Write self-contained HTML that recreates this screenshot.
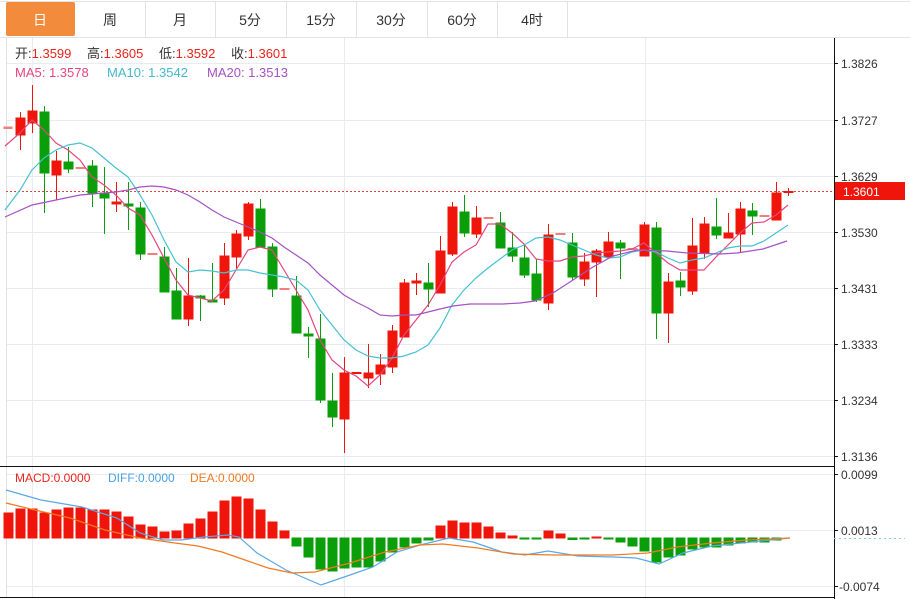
<!DOCTYPE html>
<html><head><meta charset="utf-8"><style>
body{margin:0;background:#fff;width:910px;height:599px;overflow:hidden;font-family:"Liberation Sans","Noto Sans CJK SC",sans-serif}
svg{display:block}
.r{fill:#f0150a;stroke:#f0150a}
.g{fill:#0a9e0a;stroke:#0a9e0a}
text{font-family:"Liberation Sans","Noto Sans CJK SC",sans-serif}
</style></head><body>
<svg width="910" height="599" viewBox="0 0 910 599" xmlns="http://www.w3.org/2000/svg">
<line x1="0" y1="1.5" x2="910" y2="1.5" stroke="#e2e2e2"/>
<line x1="0" y1="37.5" x2="910" y2="37.5" stroke="#e2e2e2"/>
<g stroke="#e2e2e2">
<line x1="145.5" y1="2" x2="145.5" y2="37"/><line x1="215.5" y1="2" x2="215.5" y2="37"/><line x1="286.5" y1="2" x2="286.5" y2="37"/><line x1="356.5" y1="2" x2="356.5" y2="37"/><line x1="427.5" y1="2" x2="427.5" y2="37"/><line x1="497.5" y1="2" x2="497.5" y2="37"/><line x1="567.5" y1="2" x2="567.5" y2="37"/>
</g>
<rect x="6" y="2" width="69" height="34" rx="2" fill="#f28b3c"/>
<g font-size="14" text-anchor="middle" fill="#333">
<text x="40" y="25" fill="#fff">日</text><text x="110" y="25">周</text><text x="180" y="25">月</text><text x="250" y="25">5分</text><text x="321" y="25">15分</text><text x="391" y="25">30分</text><text x="462" y="25">60分</text><text x="532" y="25">4时</text>
</g>
<g stroke="#e8ecf0">
<line x1="6" y1="63.5" x2="834" y2="63.5"/><line x1="6" y1="120.5" x2="834" y2="120.5"/><line x1="6" y1="176.5" x2="834" y2="176.5"/><line x1="6" y1="232.5" x2="834" y2="232.5"/><line x1="6" y1="288.5" x2="834" y2="288.5"/><line x1="6" y1="344.5" x2="834" y2="344.5"/><line x1="6" y1="400.5" x2="834" y2="400.5"/><line x1="6" y1="456.5" x2="834" y2="456.5"/>
<line x1="32.5" y1="38" x2="32.5" y2="598"/><line x1="344.5" y1="38" x2="344.5" y2="598"/><line x1="645.5" y1="38" x2="645.5" y2="598"/>
<line x1="6" y1="474.5" x2="834" y2="474.5"/><line x1="6" y1="530.5" x2="834" y2="530.5"/><line x1="6" y1="586.5" x2="834" y2="586.5"/>
</g>
<line x1="6.5" y1="38" x2="6.5" y2="598" stroke="#e2e2e2"/>
<line x1="0" y1="466.5" x2="834" y2="466.5" stroke="#111"/>
<line x1="0" y1="597.5" x2="834" y2="597.5" stroke="#111"/>
<line x1="834.5" y1="38" x2="834.5" y2="599" stroke="#111"/>
<g stroke="#111">
<line x1="834" y1="63.5" x2="838" y2="63.5"/><line x1="834" y1="120.5" x2="838" y2="120.5"/><line x1="834" y1="176.5" x2="838" y2="176.5"/><line x1="834" y1="232.5" x2="838" y2="232.5"/><line x1="834" y1="288.5" x2="838" y2="288.5"/><line x1="834" y1="344.5" x2="838" y2="344.5"/><line x1="834" y1="400.5" x2="838" y2="400.5"/><line x1="834" y1="456.5" x2="838" y2="456.5"/>
<line x1="834" y1="474.5" x2="838" y2="474.5"/><line x1="834" y1="530.5" x2="838" y2="530.5"/><line x1="834" y1="586.5" x2="838" y2="586.5"/>
</g>
<g font-size="12" fill="#333">
<text x="841" y="68">1.3826</text><text x="841" y="125">1.3727</text><text x="841" y="181">1.3629</text><text x="841" y="237">1.3530</text><text x="841" y="293">1.3431</text><text x="841" y="349">1.3333</text><text x="841" y="405">1.3234</text><text x="841" y="461">1.3136</text>
<text x="841" y="479">0.0099</text><text x="841" y="535">0.0013</text><text x="839" y="591">-0.0074</text>
</g>
<line x1="6" y1="191.5" x2="834" y2="191.5" stroke="#e84040" stroke-dasharray="2,2"/>
<rect x="835" y="182" width="70" height="18" fill="#f0150a"/>
<text x="843" y="196" font-size="12" fill="#fff">1.3601</text>
<line x1="834" y1="538.5" x2="905" y2="538.5" stroke="#8cc8e8" stroke-dasharray="2,3"/>
<g stroke-width="1">
<rect x="4" y="127" width="8" height="1.5" fill="#f08080" stroke="#f08080"/>
<line class="r" x1="20.5" y1="112" x2="20.5" y2="150"/><rect class="r" x="16" y="118" width="9" height="17"/>
<line class="r" x1="32.5" y1="85" x2="32.5" y2="133"/><rect class="r" x="28" y="111" width="9" height="12"/>
<line class="g" x1="44.5" y1="106" x2="44.5" y2="213"/><rect class="g" x="40" y="112" width="9" height="61"/>
<line class="r" x1="56.5" y1="151" x2="56.5" y2="200"/><rect class="r" x="52" y="161" width="9" height="14"/>
<line class="g" x1="68.5" y1="147" x2="68.5" y2="173"/><rect class="g" x="64" y="162" width="9" height="7"/>
<rect x="76" y="167.5" width="9" height="1" fill="#f08080" stroke="#f08080"/>
<line class="g" x1="92.5" y1="160" x2="92.5" y2="207"/><rect class="g" x="88" y="166" width="9" height="27"/>
<line class="g" x1="104.5" y1="167" x2="104.5" y2="234"/><rect class="g" x="100" y="193" width="9" height="5"/>
<line class="r" x1="116.5" y1="182" x2="116.5" y2="212"/><rect class="r" x="112" y="202" width="9" height="2"/>
<line class="g" x1="128.5" y1="182" x2="128.5" y2="230"/><rect class="g" x="124" y="204" width="9" height="2"/>
<line class="g" x1="140.5" y1="202" x2="140.5" y2="260"/><rect class="g" x="136" y="208" width="9" height="46"/>
<rect x="148" y="253.5" width="9" height="1" fill="#f08080" stroke="#f08080"/>
<line class="g" x1="164.5" y1="247" x2="164.5" y2="292"/><rect class="g" x="160" y="257" width="9" height="35"/>
<line class="g" x1="176.5" y1="268" x2="176.5" y2="319"/><rect class="g" x="172" y="291" width="9" height="28"/>
<line class="r" x1="188.5" y1="258" x2="188.5" y2="326"/><rect class="r" x="184" y="296" width="9" height="23"/>
<line class="g" x1="200.5" y1="295" x2="200.5" y2="321"/><rect class="g" x="196" y="296" width="9" height="2"/>
<line class="g" x1="212.5" y1="263" x2="212.5" y2="302"/><rect class="g" x="208" y="300" width="9" height="2"/>
<line class="r" x1="224.5" y1="243" x2="224.5" y2="305"/><rect class="r" x="220" y="256" width="9" height="42"/>
<line class="r" x1="236.5" y1="230" x2="236.5" y2="270"/><rect class="r" x="232" y="234" width="9" height="23"/>
<line class="r" x1="248.5" y1="202" x2="248.5" y2="240"/><rect class="r" x="244" y="204" width="9" height="32"/>
<line class="g" x1="260.5" y1="199" x2="260.5" y2="247"/><rect class="g" x="256" y="209" width="9" height="38"/>
<line class="g" x1="272.5" y1="243" x2="272.5" y2="297"/><rect class="g" x="268" y="247" width="9" height="42"/>
<rect x="280" y="288.5" width="9" height="1" fill="#f08080" stroke="#f08080"/>
<line class="g" x1="296.5" y1="276" x2="296.5" y2="333"/><rect class="g" x="292" y="296" width="9" height="37"/>
<line class="g" x1="308.5" y1="327" x2="308.5" y2="358"/><rect class="g" x="304" y="334" width="9" height="2"/>
<line class="g" x1="320.5" y1="314" x2="320.5" y2="403"/><rect class="g" x="316" y="339" width="9" height="61"/>
<line class="g" x1="332.5" y1="373" x2="332.5" y2="427"/><rect class="g" x="328" y="401" width="9" height="16"/>
<line class="r" x1="344.5" y1="357" x2="344.5" y2="453"/><rect class="r" x="340" y="373" width="9" height="46"/>
<rect class="r" x="352" y="372.5" width="9" height="1"/>
<line class="r" x1="368.5" y1="344" x2="368.5" y2="388"/><rect class="r" x="364" y="373" width="9" height="5"/>
<line class="r" x1="380.5" y1="354" x2="380.5" y2="385"/><rect class="r" x="376" y="365" width="9" height="9"/>
<line class="r" x1="392.5" y1="325" x2="392.5" y2="373"/><rect class="r" x="388" y="331" width="9" height="36"/>
<line class="r" x1="404.5" y1="279" x2="404.5" y2="337"/><rect class="r" x="400" y="283" width="9" height="54"/>
<line class="r" x1="416.5" y1="273" x2="416.5" y2="295"/><rect class="r" x="412" y="281" width="9" height="2"/>
<line class="g" x1="428.5" y1="263" x2="428.5" y2="307"/><rect class="g" x="424" y="283" width="9" height="6"/>
<line class="r" x1="440.5" y1="236" x2="440.5" y2="293"/><rect class="r" x="436" y="251" width="9" height="42"/>
<line class="r" x1="452.5" y1="202" x2="452.5" y2="256"/><rect class="r" x="448" y="207" width="9" height="47"/>
<line class="g" x1="464.5" y1="195" x2="464.5" y2="237"/><rect class="g" x="460" y="212" width="9" height="21"/>
<line class="r" x1="476.5" y1="206" x2="476.5" y2="238"/><rect class="r" x="472" y="218" width="9" height="16"/>
<rect x="484" y="217.5" width="9" height="1" fill="#f08080" stroke="#f08080"/>
<line class="g" x1="500.5" y1="212" x2="500.5" y2="248"/><rect class="g" x="496" y="223" width="9" height="25"/>
<line class="g" x1="512.5" y1="232" x2="512.5" y2="262"/><rect class="g" x="508" y="248" width="9" height="8"/>
<line class="g" x1="524.5" y1="245" x2="524.5" y2="278"/><rect class="g" x="520" y="258" width="9" height="17"/>
<line class="g" x1="536.5" y1="259" x2="536.5" y2="302"/><rect class="g" x="532" y="274" width="9" height="26"/>
<line class="r" x1="548.5" y1="224" x2="548.5" y2="310"/><rect class="r" x="544" y="235" width="9" height="68"/>
<rect x="556" y="233.5" width="9" height="1" fill="#f08080" stroke="#f08080"/>
<line class="g" x1="572.5" y1="233" x2="572.5" y2="280"/><rect class="g" x="568" y="243" width="9" height="34"/>
<line class="r" x1="584.5" y1="253" x2="584.5" y2="286"/><rect class="r" x="580" y="262" width="9" height="17"/>
<line class="r" x1="596.5" y1="249" x2="596.5" y2="297"/><rect class="r" x="592" y="251" width="9" height="11"/>
<line class="r" x1="608.5" y1="232" x2="608.5" y2="257"/><rect class="r" x="604" y="242" width="9" height="15"/>
<line class="g" x1="620.5" y1="240" x2="620.5" y2="279"/><rect class="g" x="616" y="243" width="9" height="5"/>
<rect x="628" y="248.5" width="9" height="1" fill="#f08080" stroke="#f08080"/>
<line class="r" x1="644.5" y1="222" x2="644.5" y2="256"/><rect class="r" x="640" y="225" width="9" height="31"/>
<line class="g" x1="656.5" y1="222" x2="656.5" y2="339"/><rect class="g" x="652" y="228" width="9" height="85"/>
<line class="r" x1="668.5" y1="273" x2="668.5" y2="343"/><rect class="r" x="664" y="282" width="9" height="31"/>
<line class="g" x1="680.5" y1="272" x2="680.5" y2="296"/><rect class="g" x="676" y="281" width="9" height="6"/>
<line class="r" x1="692.5" y1="218" x2="692.5" y2="295"/><rect class="r" x="688" y="246" width="9" height="45"/>
<line class="r" x1="704.5" y1="217" x2="704.5" y2="259"/><rect class="r" x="700" y="224" width="9" height="29"/>
<line class="g" x1="716.5" y1="198" x2="716.5" y2="239"/><rect class="g" x="712" y="227" width="9" height="8"/>
<line class="r" x1="728.5" y1="213" x2="728.5" y2="238"/><rect class="r" x="724" y="233" width="9" height="5"/>
<line class="r" x1="740.5" y1="202" x2="740.5" y2="253"/><rect class="r" x="736" y="209" width="9" height="25"/>
<line class="g" x1="752.5" y1="203" x2="752.5" y2="235"/><rect class="g" x="748" y="211" width="9" height="5"/>
<rect x="760" y="215.5" width="9" height="1" fill="#f08080" stroke="#f08080"/>
<line class="r" x1="776.5" y1="182" x2="776.5" y2="220"/><rect class="r" x="772" y="193" width="9" height="27"/>
<line class="r" x1="788.5" y1="188" x2="788.5" y2="196"/><rect class="r" x="784" y="191.5" width="9" height="1"/>
</g>
<polyline fill="none" stroke="#e4467e" stroke-width="1.2" points="5,146 20,133 32,120 44,130 56,143 68,150 80,160 92,177 104,185 116,195 128,208 140,215 152,235 164,258 176,280 188,295 200,298 212,301 224,290 236,270 248,250 260,247 272,250 284,270 296,290 308,310 320,340 332,360 344,370 356,376 368,386 380,375 392,358 404,335 416,320 428,305 440,285 452,262 464,252 476,245 488,224 500,224 512,233 524,244 536,259 548,261 560,261 572,257 584,256 596,253 608,252 620,251 632,249 644,243 656,253 668,263 680,270 692,270 704,270 716,257 728,245 740,233 752,223 764,222 776,215 788,205"/>
<polyline fill="none" stroke="#44c2d2" stroke-width="1.2" points="5,210 20,190 32,170 44,158 56,150 68,145 80,143 92,148 104,158 116,168 128,177 140,195 152,215 164,240 176,262 188,272 200,270 212,271 224,273 236,270 248,270 260,273 272,275 284,277 296,280 308,290 320,310 332,325 344,340 356,350 368,356 380,358 392,358 404,356 416,352 428,345 440,328 452,305 464,290 476,278 488,268 500,259 512,250 524,245 536,238 548,237 560,240 572,245 584,250 596,255 608,258 620,257 632,252 644,250 656,252 668,258 680,263 692,260 704,258 716,253 728,248 740,246 752,246 764,241 776,233 788,225"/>
<polyline fill="none" stroke="#a552c2" stroke-width="1.2" points="5,217 32,205 56,200 80,195 104,193 116,192 128,190 140,187 152,186 164,187 176,190 188,195 200,202 212,210 224,217 236,222 248,227 260,232 272,238 284,247 296,255 308,263 320,275 332,285 344,295 356,302 368,308 380,315 392,316 404,315 416,315 428,312 440,309 453,306 470,304 503,304 520,303 535,301 553,293 573,280 593,267 613,256 637,250 667,251 687,253 720,254 737,253 763,249 787,241"/>
<g font-size="13">
<text x="15" y="58" fill="#333">开:<tspan fill="#e8241a">1.3599</tspan></text>
<text x="87" y="58" fill="#333">高:<tspan fill="#e8241a">1.3605</tspan></text>
<text x="159" y="58" fill="#333">低:<tspan fill="#e8241a">1.3592</tspan></text>
<text x="231" y="58" fill="#333">收:<tspan fill="#e8241a">1.3601</tspan></text>
<text x="15" y="77" fill="#e4467e">MA5: 1.3578</text>
<text x="107" y="77" fill="#44b8cc">MA10: 1.3542</text>
<text x="207" y="77" fill="#a552c2">MA20: 1.3513</text>
<g font-size="12">
<text x="15" y="482" fill="#e8241a">MACD:0.0000</text>
<text x="108" y="482" fill="#4aa3e0">DIFF:0.0000</text>
<text x="190" y="482" fill="#f07a20">DEA:0.0000</text>
</g>
</g>
<g stroke="none">
<rect class="r" x="4" y="513" width="9" height="25" stroke="none"/><rect class="r" x="16" y="509" width="9" height="29" stroke="none"/><rect class="r" x="28" y="509" width="9" height="29" stroke="none"/><rect class="r" x="40" y="513" width="9" height="25" stroke="none"/><rect class="r" x="52" y="510" width="9" height="28" stroke="none"/><rect class="r" x="64" y="508" width="9" height="30" stroke="none"/><rect class="r" x="76" y="508" width="9" height="30" stroke="none"/><rect class="r" x="88" y="510" width="9" height="28" stroke="none"/><rect class="r" x="100" y="510" width="9" height="28" stroke="none"/><rect class="r" x="112" y="512" width="9" height="26" stroke="none"/><rect class="r" x="124" y="517" width="9" height="21" stroke="none"/><rect class="r" x="136" y="525" width="9" height="13" stroke="none"/><rect class="r" x="148" y="527" width="9" height="11" stroke="none"/><rect class="r" x="160" y="532" width="9" height="6" stroke="none"/><rect class="r" x="172" y="531" width="9" height="7" stroke="none"/><rect class="r" x="184" y="524" width="9" height="14" stroke="none"/><rect class="r" x="196" y="519" width="9" height="19" stroke="none"/><rect class="r" x="208" y="512" width="9" height="26" stroke="none"/><rect class="r" x="220" y="501" width="9" height="37" stroke="none"/><rect class="r" x="232" y="497" width="9" height="41" stroke="none"/><rect class="r" x="244" y="499" width="9" height="39" stroke="none"/><rect class="r" x="256" y="510" width="9" height="28" stroke="none"/><rect class="r" x="268" y="522" width="9" height="16" stroke="none"/><rect class="r" x="280" y="531" width="9" height="7" stroke="none"/>
<rect class="g" x="292" y="538" width="9" height="8" stroke="none"/><rect class="g" x="304" y="538" width="9" height="19" stroke="none"/><rect class="g" x="316" y="538" width="9" height="31" stroke="none"/><rect class="g" x="328" y="538" width="9" height="33" stroke="none"/><rect class="g" x="340" y="538" width="9" height="30" stroke="none"/><rect class="g" x="352" y="538" width="9" height="29" stroke="none"/><rect class="g" x="364" y="538" width="9" height="29" stroke="none"/><rect class="g" x="376" y="538" width="9" height="23" stroke="none"/><rect class="g" x="388" y="538" width="9" height="14" stroke="none"/><rect class="g" x="400" y="538" width="9" height="9" stroke="none"/><rect class="g" x="412" y="538" width="9" height="5" stroke="none"/><rect class="g" x="424" y="538" width="9" height="2" stroke="none"/>
<rect class="r" x="436" y="526" width="9" height="12" stroke="none"/><rect class="r" x="448" y="521" width="9" height="17" stroke="none"/><rect class="r" x="460" y="523" width="9" height="15" stroke="none"/><rect class="r" x="472" y="523" width="9" height="15" stroke="none"/><rect class="r" x="484" y="527" width="9" height="11" stroke="none"/><rect class="r" x="496" y="533" width="9" height="5" stroke="none"/><rect class="r" x="508" y="536" width="9" height="2" stroke="none"/>
<rect class="g" x="520" y="538" width="9" height="1" stroke="none"/><rect class="g" x="532" y="538" width="9" height="1" stroke="none"/>
<rect class="r" x="544" y="531" width="9" height="7" stroke="none"/><rect class="r" x="556" y="534" width="9" height="4" stroke="none"/>
<rect class="g" x="568" y="538" width="9" height="1.5" stroke="none"/><rect class="g" x="580" y="538" width="9" height="1" stroke="none"/><rect class="r" x="592" y="537" width="9" height="1" stroke="none"/><rect class="g" x="604" y="538" width="9" height="1" stroke="none"/>
<rect class="g" x="616" y="538" width="9" height="4" stroke="none"/><rect class="g" x="628" y="538" width="9" height="8" stroke="none"/><rect class="g" x="640" y="538" width="9" height="13" stroke="none"/><rect class="g" x="652" y="538" width="9" height="24" stroke="none"/><rect class="g" x="664" y="538" width="9" height="19" stroke="none"/><rect class="g" x="676" y="538" width="9" height="17" stroke="none"/><rect class="g" x="688" y="538" width="9" height="11" stroke="none"/><rect class="g" x="700" y="538" width="9" height="9" stroke="none"/><rect class="g" x="712" y="538" width="9" height="9" stroke="none"/><rect class="g" x="724" y="538" width="9" height="7" stroke="none"/><rect class="g" x="736" y="538" width="9" height="5" stroke="none"/><rect class="g" x="748" y="538" width="9" height="4" stroke="none"/><rect class="g" x="760" y="538" width="9" height="4" stroke="none"/><rect class="g" x="772" y="538" width="9" height="2" stroke="none"/>
</g>
<polyline fill="none" stroke="#5aa9e6" stroke-width="1.2" points="6,490 41,500 82,507 117,518 140,533 163,540 181,540 204,537 228,535 239,537 257,553 286,570 321,585 350,575 373,567 397,552 420,545 449,538 473,542 502,552 525,555 548,551 578,556 613,557 636,558 659,564 683,553 712,546 741,543 770,540 790,538"/>
<polyline fill="none" stroke="#f07a20" stroke-width="1.2" points="6,503 35,510 70,518 105,530 140,538 175,543 198,546 222,552 245,560 268,568 292,573 315,572 350,563 385,552 420,545 443,544 478,548 513,554 554,555 613,555 648,553 677,547 712,543 747,540 790,538"/>
</svg>
</body></html>
